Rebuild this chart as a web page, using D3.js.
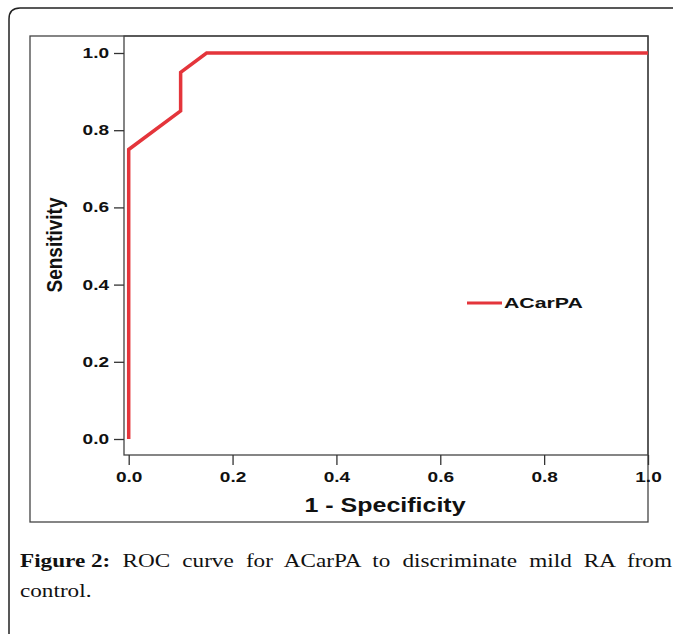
<!DOCTYPE html>
<html>
<head>
<meta charset="utf-8">
<script src="https://cdn.jsdelivr.net/npm/d3@7"></script>
<style>
  body { margin: 0; background: #fff; }
  svg { display: block; }
  .tick text { font-family: Arial, "Liberation Sans", sans-serif; font-weight: bold; font-size: 14px; fill: #111; }
</style>
</head>
<body>
<div id="chart"></div>
<script>
// ROC points
const fpr = [0, 0, 0.1, 0.1, 0.15, 1.0];
const tpr = [0, 0.75, 0.85, 0.95, 1.0, 1.0];
const xTicks = [0, 0.2, 0.4, 0.6, 0.8, 1.0];
const yTicks = [0, 0.2, 0.4, 0.6, 0.8, 1.0];
const seriesName = 'ACarPA';
const xTitle = '1 - Specificity';
const yTitle = 'Sensitivity';
const captionBold = 'Figure 2:';
const captionLine1 = 'ROC curve for ACarPA to discriminate mild RA from';
const captionLine2 = 'control.';

const W = 673, H = 634;
const RED = '#e4353b';
const STRETCH = 1.36;
const CAP_STRETCH = 1.22;

function drawChart() {
  let svg = d3.select('#chart').append('svg')
    .attr('width', W)
    .attr('height', H);

  svg.append('rect').attr('width', W).attr('height', H).attr('fill', '#fff');

  // outer card border (rounded top-left corner)
  svg.append('path')
    .attr('d', 'M9,' + H + ' L9,19 Q9,8 20,8 L' + W + ',8')
    .attr('fill', 'none')
    .attr('stroke', '#222')
    .attr('stroke-width', 1.5);

  let frame = { left: 30, top: 36, right: 648, bottom: 522 };
  let plot = { left: 124, top: 36, right: 648, bottom: 455 };

  let x = d3.scaleLinear().domain([0, 1]).range([128.7, 648]);
  let y = d3.scaleLinear().domain([0, 1]).range([439, 53]);

  // outer frame of the chart
  svg.append('rect')
    .attr('x', frame.left).attr('y', frame.top)
    .attr('width', frame.right - frame.left)
    .attr('height', frame.bottom - frame.top)
    .attr('fill', 'none').attr('stroke', '#444').attr('stroke-width', 1.3);

  // plot area
  svg.append('rect')
    .attr('x', plot.left).attr('y', plot.top)
    .attr('width', plot.right - plot.left)
    .attr('height', plot.bottom - plot.top)
    .attr('fill', 'none').attr('stroke', '#444').attr('stroke-width', 1.3);

  let yAxis = d3.axisLeft(y).tickValues(yTicks).tickFormat(d3.format('.1f')).tickSize(10);
  let gy = svg.append('g').attr('transform', 'translate(' + plot.left + ',0)').call(yAxis);
  gy.select('.domain').remove();
  gy.selectAll('.tick line').attr('stroke', '#333').attr('stroke-width', 1.3);
  gy.selectAll('.tick text')
    .attr('x', -11)
    .attr('transform', 'scale(' + STRETCH + ',1)');

  let xAxis = d3.axisBottom(x).tickValues(xTicks).tickFormat(d3.format('.1f')).tickSize(10);
  let gx = svg.append('g').attr('transform', 'translate(0,' + plot.bottom + ')').call(xAxis);
  gx.select('.domain').remove();
  gx.selectAll('.tick line').attr('stroke', '#333').attr('stroke-width', 1.3);
  gx.selectAll('.tick text')
    .attr('y', 17)
    .attr('transform', 'scale(' + STRETCH + ',1)');

  // ROC curve
  let points = fpr.map((f, i) => [f, tpr[i]]);
  let line = d3.line().x(d => x(d[0])).y(d => y(d[1]));
  svg.append('path')
    .datum(points)
    .attr('d', line)
    .attr('fill', 'none')
    .attr('stroke', RED)
    .attr('stroke-width', 3.5)
    .attr('stroke-linejoin', 'miter');

  // axis titles
  svg.append('text')
    .attr('transform', 'translate(385,512) scale(1.25,1)')
    .attr('text-anchor', 'middle')
    .style('font-family', 'Arial, "Liberation Sans", sans-serif')
    .style('font-weight', 'bold')
    .style('font-size', '20px')
    .attr('fill', '#111')
    .text(xTitle);

  svg.append('text')
    .attr('transform', 'translate(62,245) rotate(-90) scale(1,1.15)')
    .attr('text-anchor', 'middle')
    .style('font-family', 'Arial, "Liberation Sans", sans-serif')
    .style('font-weight', 'bold')
    .style('font-size', '19px')
    .attr('fill', '#111')
    .text(yTitle);

  // legend
  svg.append('line')
    .attr('x1', 467).attr('x2', 502)
    .attr('y1', 303).attr('y2', 303)
    .attr('stroke', RED).attr('stroke-width', 3);
  svg.append('text')
    .attr('transform', 'translate(504,308) scale(1.42,1)')
    .style('font-family', 'Arial, "Liberation Sans", sans-serif')
    .style('font-weight', 'bold')
    .style('font-size', '15px')
    .attr('fill', '#111')
    .text(seriesName);

  // caption, first line justified to the right edge
  let cap = svg.append('text')
    .attr('transform', 'translate(20,567) scale(' + CAP_STRETCH + ',1)')
    .style('font-family', '"Liberation Serif", "DejaVu Serif", serif')
    .style('font-size', '19px')
    .attr('fill', '#111');
  cap.append('tspan').style('font-weight', 'bold').text(captionBold);
  let rest = cap.append('tspan').text(' ' + captionLine1);
  let gaps = captionLine1.split(' ').length;
  let used = cap.node().getComputedTextLength();
  let extra = ((672 - 20) / CAP_STRETCH - used) / gaps;
  rest.style('word-spacing', extra + 'px');

  svg.append('text')
    .attr('transform', 'translate(20,597) scale(' + CAP_STRETCH + ',1)')
    .style('font-family', '"Liberation Serif", "DejaVu Serif", serif')
    .style('font-size', '19px')
    .attr('fill', '#111')
    .text(captionLine2);
}

window.onload = drawChart;
</script>
</body>
</html>
